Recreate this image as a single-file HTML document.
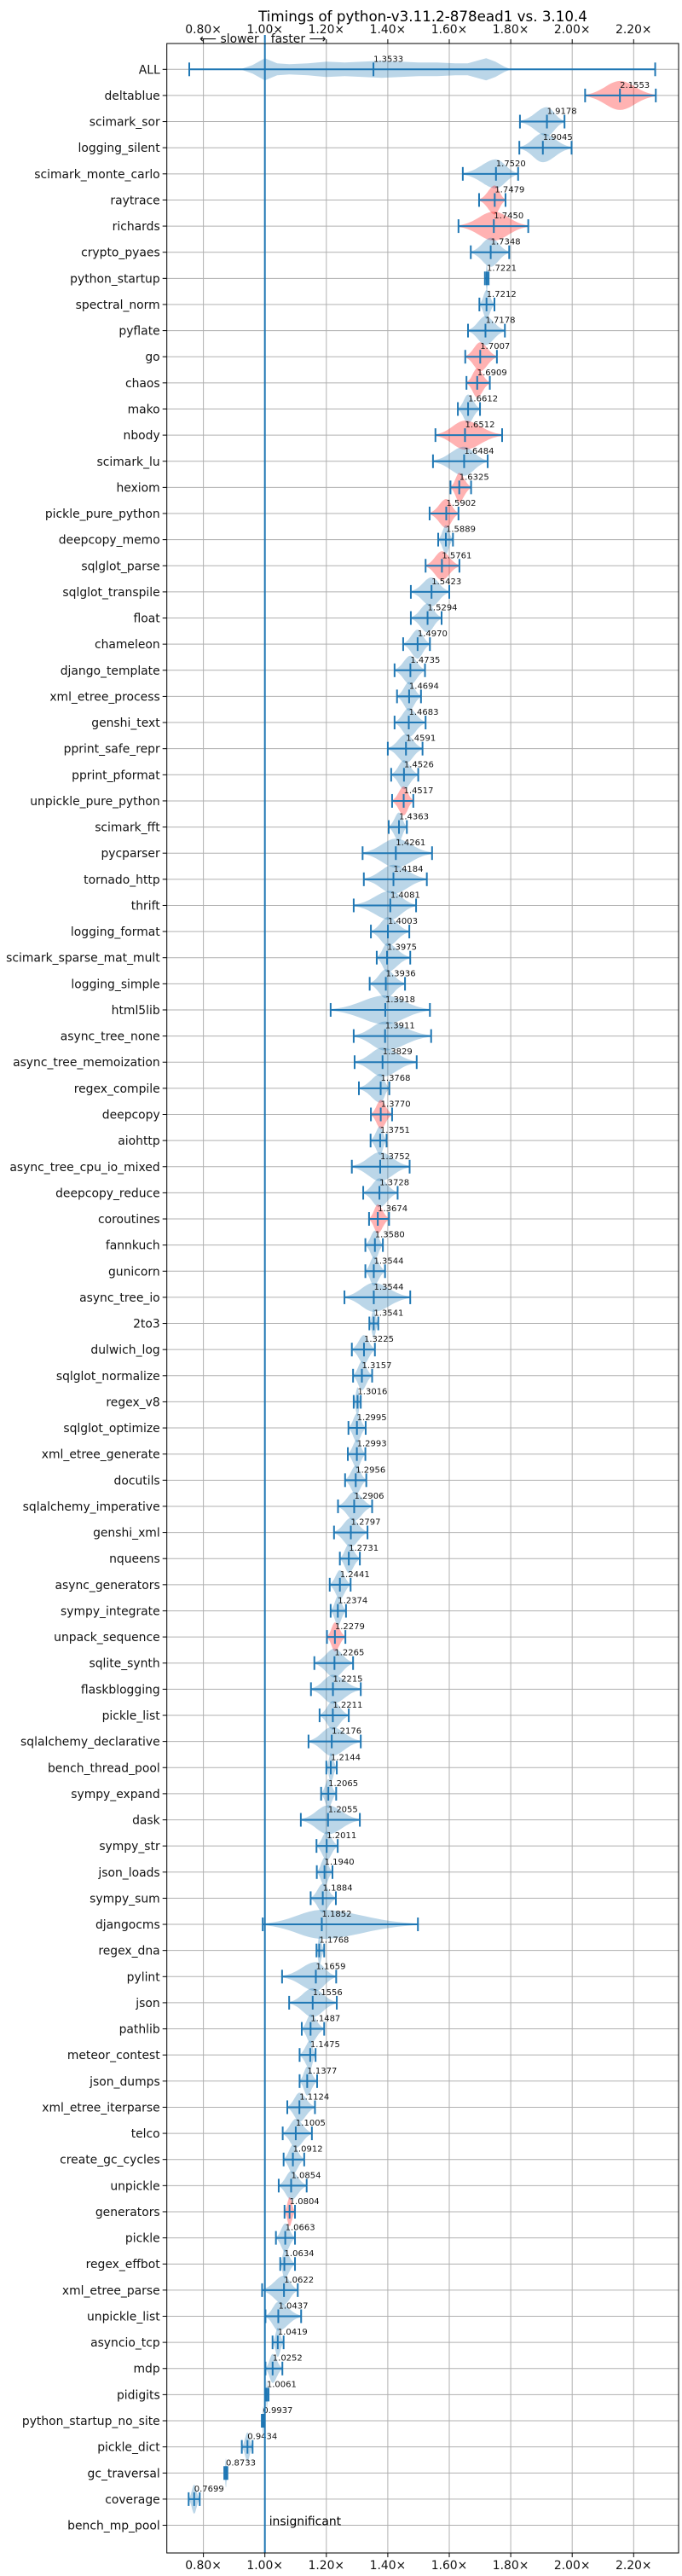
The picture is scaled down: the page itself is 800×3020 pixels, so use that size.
<!DOCTYPE html>
<html><head><meta charset="utf-8"><style>
html,body{margin:0;padding:0;background:#fff;}
svg{display:block;font-family:"DejaVu Sans","Liberation Sans",sans-serif;}
</style></head><body>
<svg id="chart" width="800" height="3020" viewBox="0 0 800 3020" xmlns="http://www.w3.org/2000/svg">
<rect x="0" y="0" width="800" height="3020" fill="#fff"/>
<text x="496" y="25" font-size="16.7" text-anchor="middle">Timings of python-v3.11.2-878ead1 vs. 3.10.4</text>
<g id="grid"></g>
<g id="marks"></g>
<g id="axes"></g>
</svg>
<script>
const names = ["ALL","deltablue","scimark_sor","logging_silent","scimark_monte_carlo","raytrace","richards","crypto_pyaes","python_startup","spectral_norm","pyflate","go","chaos","mako","nbody","scimark_lu","hexiom","pickle_pure_python","deepcopy_memo","sqlglot_parse","sqlglot_transpile","float","chameleon","django_template","xml_etree_process","genshi_text","pprint_safe_repr","pprint_pformat","unpickle_pure_python","scimark_fft","pycparser","tornado_http","thrift","logging_format","scimark_sparse_mat_mult","logging_simple","html5lib","async_tree_none","async_tree_memoization","regex_compile","deepcopy","aiohttp","async_tree_cpu_io_mixed","deepcopy_reduce","coroutines","fannkuch","gunicorn","async_tree_io","2to3","dulwich_log","sqlglot_normalize","regex_v8","sqlglot_optimize","xml_etree_generate","docutils","sqlalchemy_imperative","genshi_xml","nqueens","async_generators","sympy_integrate","unpack_sequence","sqlite_synth","flaskblogging","pickle_list","sqlalchemy_declarative","bench_thread_pool","sympy_expand","dask","sympy_str","json_loads","sympy_sum","djangocms","regex_dna","pylint","json","pathlib","meteor_contest","json_dumps","xml_etree_iterparse","telco","create_gc_cycles","unpickle","generators","pickle","regex_effbot","xml_etree_parse","unpickle_list","asyncio_tcp","mdp","pidigits","python_startup_no_site","pickle_dict","gc_traversal","coverage","bench_mp_pool"];
const medians = [1.3533,2.1553,1.9178,1.9045,1.7520,1.7479,1.7450,1.7348,1.7221,1.7212,1.7178,1.7007,1.6909,1.6612,1.6512,1.6484,1.6325,1.5902,1.5889,1.5761,1.5423,1.5294,1.4970,1.4735,1.4694,1.4683,1.4591,1.4526,1.4517,1.4363,1.4261,1.4184,1.4081,1.4003,1.3975,1.3936,1.3918,1.3911,1.3829,1.3768,1.3770,1.3751,1.3752,1.3728,1.3674,1.3580,1.3544,1.3544,1.3541,1.3225,1.3157,1.3016,1.2995,1.2993,1.2956,1.2906,1.2797,1.2731,1.2441,1.2374,1.2279,1.2265,1.2215,1.2211,1.2176,1.2144,1.2065,1.2055,1.2011,1.1940,1.1884,1.1852,1.1768,1.1659,1.1556,1.1487,1.1475,1.1377,1.1124,1.1005,1.0912,1.0854,1.0804,1.0663,1.0634,1.0622,1.0437,1.0419,1.0252,1.0061,0.9937,0.9434,0.8733,0.7699,1.0];
const mins = [0.754,2.042,1.830,1.828,1.644,1.697,1.630,1.670,1.716,1.698,1.661,1.652,1.656,1.628,1.555,1.547,1.604,1.536,1.564,1.523,1.475,1.475,1.450,1.422,1.430,1.422,1.400,1.411,1.414,1.403,1.318,1.322,1.289,1.345,1.364,1.341,1.214,1.289,1.292,1.306,1.345,1.344,1.283,1.320,1.339,1.327,1.327,1.259,1.340,1.283,1.287,1.289,1.272,1.270,1.261,1.238,1.225,1.244,1.211,1.214,1.202,1.161,1.150,1.178,1.142,1.200,1.183,1.117,1.168,1.169,1.149,0.993,1.168,1.056,1.079,1.120,1.113,1.113,1.073,1.058,1.061,1.045,1.064,1.036,1.050,0.991,1.002,1.025,1.002,1.003,0.990,0.925,0.868,0.752,0.999];
const maxs = [2.270,2.272,1.975,1.998,1.824,1.783,1.857,1.795,1.728,1.747,1.781,1.755,1.732,1.700,1.772,1.725,1.671,1.630,1.612,1.633,1.600,1.575,1.537,1.521,1.508,1.523,1.513,1.499,1.483,1.462,1.544,1.527,1.492,1.470,1.473,1.456,1.537,1.541,1.494,1.405,1.414,1.396,1.471,1.432,1.404,1.384,1.391,1.473,1.369,1.358,1.349,1.312,1.328,1.327,1.330,1.349,1.334,1.309,1.279,1.264,1.262,1.287,1.312,1.273,1.312,1.234,1.232,1.309,1.237,1.220,1.231,1.498,1.193,1.232,1.234,1.193,1.165,1.170,1.163,1.153,1.128,1.136,1.098,1.098,1.098,1.107,1.118,1.061,1.057,1.012,0.998,0.960,0.878,0.788,1.001];
const slowerNames = ["deltablue","raytrace","richards","go","chaos","nbody","hexiom","pickle_pure_python","sqlglot_parse","unpickle_pure_python","deepcopy","coroutines","unpack_sequence","generators"];
const allProfileX = [0.92,0.96,1.00,1.04,1.08,1.14,1.20,1.26,1.32,1.38,1.44,1.50,1.56,1.62,1.66,1.70,1.72,1.75,1.78,1.80];
const allProfileW = [0,5,13,7,6,7,9,8,9,10,9,8,8,7,7,11,13,9,3,0];
const tickValues = [0.8,1.0,1.2,1.4,1.6,1.8,2.0,2.2];
const tickLabels = ["0.80×","1.00×","1.20×","1.40×","1.60×","1.80×","2.00×","2.20×"];

const NS = "http://www.w3.org/2000/svg";
const L = 195.7, R = 796, T = 51, B = 2993;
const x = v => 310.7 + (v - 1) * 360.5;
const y = i => 81.3 + i * 30.63;
const H = 17, CAP = 8;
function mk(tag, attrs, parent) {
  const e = document.createElementNS(NS, tag);
  for (const k in attrs) e.setAttribute(k, attrs[k]);
  parent.appendChild(e);
  return e;
}
const grid = document.getElementById('grid');
const marks = document.getElementById('marks');
const axes = document.getElementById('axes');

tickValues.forEach((v, k) => {
  const g = mk('line', {x1: x(v), x2: x(v), y1: T, y2: B, stroke: '#b0b0b0', 'stroke-width': 1}, grid);
  
  
});
names.forEach((n, i) => {
  const g = mk('line', {x1: L, x2: R, y1: y(i), y2: y(i), stroke: '#b0b0b0', 'stroke-width': 1}, grid);
  
  
});

function violinPath(i) {
  const cy = y(i), lo = mins[i], hi = maxs[i], m = medians[i];
  const pts = [];
  const N = 30;
  for (let k = 0; k <= N; k++) {
    const v = lo + (hi - lo) * k / N;
    let t;
    if (v <= m) t = (m - lo) > 0 ? (v - lo) / (m - lo) : 1;
    else t = (hi - m) > 0 ? (hi - v) / (hi - m) : 1;
    const d = (1 - t) * 2.4;
    let w = H * Math.exp(-0.5 * d * d);
    w = Math.max(w, 1);
    pts.push([x(v), w]);
  }
  let d = 'M' + pts.map(p => p[0].toFixed(1) + ',' + (cy - p[1]).toFixed(1)).join(' L');
  d += ' L' + pts.slice().reverse().map(p => p[0].toFixed(1) + ',' + (cy + p[1]).toFixed(1)).join(' L') + ' Z';
  return d;
}
function allPath(i) {
  const cy = y(i);
  let d = 'M' + allProfileX.map((v, k) => x(v).toFixed(1) + ',' + (cy - allProfileW[k])).join(' L');
  d += ' L' + allProfileX.slice().reverse().map((v, k) => x(v).toFixed(1) + ',' + (cy + allProfileW[allProfileW.length - 1 - k])).join(' L') + ' Z';
  return d;
}

names.forEach((n, i) => {
  const cy = y(i);
  const red = slowerNames.indexOf(n) >= 0;
  const fill = red ? 'rgba(255,0,0,0.3)' : 'rgba(31,119,180,0.3)';
  const vp = mk('path', {d: i === 0 ? allPath(i) : violinPath(i), fill: fill, stroke: 'none'}, marks);
  
  
  if (n === 'bench_mp_pool') {
    const t = mk('text', {x: x(1.0) + 5, y: cy, 'font-size': 13.9}, marks);
    t.textContent = 'insignificant';
    
    
    return;
  }
  const wl = mk('line', {x1: x(mins[i]), x2: x(maxs[i]), y1: cy, y2: cy, stroke: '#1f77b4', 'stroke-width': 2}, marks);
  
  
  [mins[i], medians[i], maxs[i]].forEach(v => {
    const c = mk('line', {x1: x(v), x2: x(v), y1: cy - CAP, y2: cy + CAP, stroke: '#1f77b4', 'stroke-width': 2}, marks);
    
    
  });
  const lab = mk('text', {x: x(medians[i]), y: cy - 9, 'font-size': 10, fill: '#111'}, marks);
  lab.textContent = medians[i].toFixed(4);
  
  
});

const ref = mk('line', {x1: x(1), x2: x(1), y1: T, y2: B, stroke: '#1f77b4', 'stroke-width': 2}, axes);


const frame = mk('rect', {x: L, y: T, width: R - L, height: B - T, fill: 'none', stroke: '#000', 'stroke-width': 1}, axes);



names.forEach((n, i) => {
  const tk = mk('line', {x1: L - 5, x2: L, y1: y(i), y2: y(i), stroke: '#000', 'stroke-width': 1}, axes);
  
  
  const t = mk('text', {x: L - 8, y: y(i) + 5, 'font-size': 13.9, 'text-anchor': 'end', fill: '#111'}, axes);
  t.textContent = n;
  
  
});
tickValues.forEach((v, k) => {
  const t1 = mk('line', {x1: x(v), x2: x(v), y1: T - 5, y2: T, stroke: '#000', 'stroke-width': 1}, axes);
  
  
  const t2 = mk('line', {x1: x(v), x2: x(v), y1: B, y2: B + 5, stroke: '#000', 'stroke-width': 1}, axes);
  
  
  const a = mk('text', {x: x(v), y: 39, 'font-size': 13.9, 'text-anchor': 'middle', fill: '#111'}, axes);
  a.textContent = tickLabels[k];
  
  
  const b = mk('text', {x: x(v), y: 3012, 'font-size': 13.9, 'text-anchor': 'middle', fill: '#111'}, axes);
  b.textContent = tickLabels[k];
  
  
});
const sl = mk('text', {x: x(1) - 7, y: 50, 'font-size': 13.9, 'text-anchor': 'end', fill: '#111'}, axes);
sl.textContent = '⟵ slower';


const fs = mk('text', {x: x(1) + 7, y: 50, 'font-size': 13.9, 'text-anchor': 'start', fill: '#111'}, axes);
fs.textContent = 'faster ⟶';


const sep = mk('line', {x1: x(1), x2: x(1), y1: 41, y2: 51, stroke: '#1f77b4', 'stroke-width': 2}, axes);


</script>
</body></html>
